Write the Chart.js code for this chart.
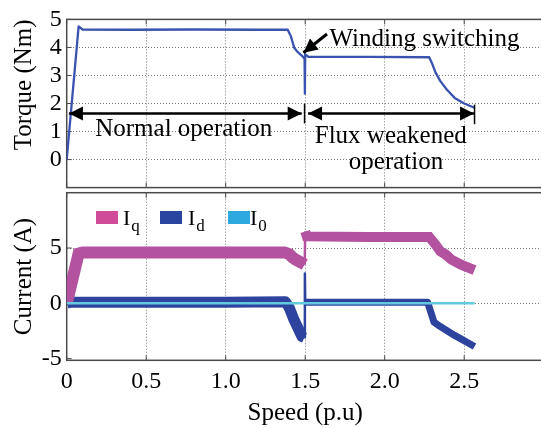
<!DOCTYPE html>
<html>
<head>
<meta charset="utf-8">
<script src="https://cdn.jsdelivr.net/npm/chart.js@4.4.1/dist/chart.umd.min.js"></script>
<style>
html,body{margin:0;padding:0;background:#fff;overflow:hidden}
#wrap{position:relative;width:541px;height:428px;overflow:hidden;background:#fff}
#top{position:absolute;left:0;top:0}
#bot{position:absolute;left:0;top:170px}
</style>
</head>
<body>
<div id="wrap">
<canvas id="top" width="550" height="210"></canvas>
<canvas id="bot" width="550" height="258"></canvas>
</div>
<script>
// --- data (speed in p.u) ---
const speedTorque = [0, 0.075, 0.1, 0.4, 0.8, 1.2, 1.39, 1.41, 1.43, 1.45, 1.48, 1.496, 1.498, 1.500, 1.52, 1.9, 2.28, 2.30, 2.32, 2.35, 2.39, 2.44, 2.50, 2.565];
const torqueNm    = [0, 4.75, 4.64, 4.63, 4.64, 4.63, 4.63, 4.4, 4.0, 3.85, 3.7, 3.6, 2.35, 3.75, 3.66, 3.66, 3.65, 3.4, 3.1, 2.8, 2.5, 2.2, 2.0, 1.85];

const speedIq = [0, 0.075, 0.1, 0.5, 1.0, 1.37, 1.40, 1.42, 1.44, 1.48, 1.497, 1.5, 1.51, 1.9, 2.28, 2.32, 2.35, 2.385, 2.42, 2.48, 2.565];
const currentIq = [0, 4.5, 4.6, 4.6, 4.6, 4.6, 4.45, 4.15, 3.95, 3.65, 3.5, 6.5, 6.05, 6.0, 6.0, 5.3, 4.7, 4.4, 3.95, 3.5, 3.0];

const speedId = [0, 0.02, 0.5, 1.0, 1.375, 1.40, 1.43, 1.46, 1.48, 1.495, 1.498, 1.5, 1.51, 1.9, 2.27, 2.29, 2.31, 2.35, 2.44, 2.565];
const currentId = [0, 0.1, 0.1, 0.1, 0.15, -0.4, -1.5, -2.4, -3.0, -3.1, 2.7, 0.1, 0.1, 0.1, 0.1, -0.8, -1.7, -2.1, -2.9, -3.9];

const speedI0 = [0, 2.565];
const currentI0 = [0, 0];

const xTicks = [0, 0.5, 1.0, 1.5, 2.0, 2.5];
const xTickLabels = ['0', '0.5', '1.0', '1.5', '2.0', '2.5'];
const torqueTicks = [0, 1, 2, 3, 4, 5];
const currentTicks = [-5, 0, 5];
const legendNames = ['I', 'I', 'I'];
const legendSubs = ['q', 'd', '0'];

const serif = "'Liberation Serif', 'Times New Roman', serif";
const toXY = (xs, ys) => xs.map((x, i) => ({x, y: ys[i]}));

function arrowHead(ctx, x1, y1, x2, y2, len, half){
    const a = Math.atan2(y2 - y1, x2 - x1);
    ctx.beginPath();
    ctx.moveTo(x2, y2);
    ctx.lineTo(x2 - len*Math.cos(a) + half*Math.sin(a), y2 - len*Math.sin(a) - half*Math.cos(a));
    ctx.lineTo(x2 - len*Math.cos(a) - half*Math.sin(a), y2 - len*Math.sin(a) + half*Math.cos(a));
    ctx.closePath();
    ctx.fill();
}

// box round the plot, with small inward ticks
const framePlugin = {
    id: 'frame',
    beforeDatasetsDraw(chart){
        const {ctx, chartArea: a, scales} = chart;
        ctx.save();
        ctx.strokeStyle = '#4a4a4a';
        ctx.lineWidth = 1.5;
        ctx.strokeRect(a.left, a.top, a.right - a.left, a.bottom - a.top);
        ctx.beginPath();
        scales.x.ticks.forEach(t => {
            const px = scales.x.getPixelForValue(t.value);
            ctx.moveTo(px, a.top); ctx.lineTo(px, a.top + 5);
            ctx.moveTo(px, a.bottom); ctx.lineTo(px, a.bottom - 5);
        });
        scales.y.ticks.forEach(t => {
            const py = scales.y.getPixelForValue(t.value);
            ctx.moveTo(a.left, py); ctx.lineTo(a.left + 5, py);
        });
        ctx.lineWidth = 1;
        ctx.stroke();
        ctx.restore();
    }
};

// arrows and notes on the torque plot (data units)
const torqueNotes = {
    arrows: [
        {x1: 0.014, y1: 1.64, x2: 1.478, y2: 1.64, both: true},
        {x1: 1.518, y1: 1.64, x2: 2.562, y2: 1.64, both: true},
        {x1: 1.637, y1: 4.48, x2: 1.489, y2: 3.81, both: false}
    ],
    bars: [{x: 1.496, y1: 1.99, y2: 1.29}, {x: 2.565, y1: 1.96, y2: 1.26}],
    texts: [
        {text: 'Normal operation', x: 0.736, y: 0.84, align: 'center'},
        {text: 'Flux weakened', x: 2.038, y: 0.6, align: 'center'},
        {text: 'operation', x: 2.071, y: -0.33, align: 'center'},
        {text: 'Winding switching', x: 1.653, y: 4.05, align: 'left'}
    ]
};

const notesPlugin = {
    id: 'notes',
    afterDatasetsDraw(chart){
        const {ctx, scales: {x, y}} = chart;
        ctx.save();
        ctx.strokeStyle = '#000'; ctx.fillStyle = '#000';
        ctx.lineWidth = 1.5;
        torqueNotes.bars.forEach(b => {
            ctx.beginPath();
            ctx.moveTo(x.getPixelForValue(b.x), y.getPixelForValue(b.y1));
            ctx.lineTo(x.getPixelForValue(b.x), y.getPixelForValue(b.y2));
            ctx.stroke();
        });
        torqueNotes.arrows.forEach(r => {
            const x1 = x.getPixelForValue(r.x1), y1 = y.getPixelForValue(r.y1);
            const x2 = x.getPixelForValue(r.x2), y2 = y.getPixelForValue(r.y2);
            ctx.lineWidth = r.both ? 2.5 : 3;
            ctx.beginPath(); ctx.moveTo(x1, y1); ctx.lineTo(x2, y2); ctx.stroke();
            arrowHead(ctx, x1, y1, x2, y2, 14, 7);
            if(r.both) arrowHead(ctx, x2, y2, x1, y1, 14, 7);
        });
        ctx.font = '25px ' + serif;
        ctx.textBaseline = 'alphabetic';
        torqueNotes.texts.forEach(t => {
            ctx.textAlign = t.align;
            ctx.fillText(t.text, x.getPixelForValue(t.x), y.getPixelForValue(t.y));
        });
        ctx.restore();
    }
};

// legend with subscripts
const legendColors = ['#d04c98', '#2a45a0', '#2ea9df'];
const legendPlugin = {
    id: 'subLegend',
    afterDatasetsDraw(chart){
        const ctx = chart.ctx;
        const boxX = [96, 160, 228], gap = [5, 6, 0];
        ctx.save();
        ctx.textBaseline = 'alphabetic';
        ctx.textAlign = 'left';
        legendNames.forEach((name, i) => {
            ctx.fillStyle = legendColors[i];
            ctx.fillRect(boxX[i], 41, 22, 13);
            ctx.fillStyle = '#000';
            ctx.font = '22px ' + serif;
            const tx = boxX[i] + 22 + gap[i];
            ctx.fillText(name, tx, 55);
            const w = ctx.measureText(name).width;
            ctx.font = '17px ' + serif;
            ctx.fillText(legendSubs[i], tx + w + 1, 61);
        });
        ctx.restore();
    }
};

function xScale(showLabels){
    return {
        type: 'linear', min: 0, max: 3,
        afterBuildTicks: s => { s.ticks = xTicks.map(v => ({value: v})); },
        afterFit: s => { s.height = showLabels ? 67.7 : 0; },
        grid: {color: '#7a7a7a', lineWidth: 1, drawTicks: false},
        border: {display: false, dash: [1, 2]},
        ticks: {display: showLabels, autoSkip: false, maxRotation: 0, padding: 7, color: '#000',
                font: {family: serif, size: 24},
                callback: (v, i) => xTickLabels[i] ?? ''},
        title: {display: showLabels, text: 'Speed (p.u)', color: '#000',
                font: {family: serif, size: 25, lineHeight: 1.2}, padding: {top: 0, bottom: 0}}
    };
}

function yScale(min, max, ticks, title, align, hideGridAt){
    return {
        min, max,
        afterBuildTicks: s => { s.ticks = ticks.map(v => ({value: v})); },
        afterFit: s => { s.width = 66.7; },
        grid: {color: c => (c.tick && c.tick.value === hideGridAt) ? 'rgba(0,0,0,0)' : '#7a7a7a', lineWidth: 1, drawTicks: false},
        border: {display: false, dash: [1, 2]},
        ticks: {padding: 5, color: '#000', font: {family: serif, size: 24}},
        title: {display: true, text: title, align, color: '#000',
                font: {family: serif, size: 25, lineHeight: 1.2}, padding: {top: 9, bottom: 0}}
    };
}

const common = {
    responsive: false,
    animation: false,
    plugins: {legend: {display: false}, tooltip: {enabled: false}},
    elements: {point: {radius: 0}, line: {tension: 0}}
};

// thin stroke for the near-vertical jumps at the switching point
const bandWidth = (c, normal, weak) => (c.p1.parsed.x - c.p0.parsed.x < 0.006) ? 2.5 : (c.p0.parsed.x >= 1.5 ? weak : normal);

new Chart(document.getElementById('top'), {
    type: 'line',
    data: {datasets: [{
        data: toXY(speedTorque, torqueNm),
        borderColor: '#3a52b0', borderWidth: 2.3, borderJoinStyle: 'round'
    }]},
    options: {
        ...common,
        layout: {padding: {left: 0, top: 16, right: 6.3, bottom: 22.4}},
        scales: {x: xScale(false), y: yScale(-1, 5, torqueTicks, 'Torque (Nm)', 'end', null)}
    },
    plugins: [framePlugin, notesPlugin]
});

new Chart(document.getElementById('bot'), {
    type: 'line',
    data: {datasets: [
        {data: toXY(speedI0, currentI0), borderColor: '#62c9de', borderWidth: 2.5, order: 0},
        {data: toXY(speedIq, currentIq), borderColor: '#b3529f', borderWidth: 12, order: 1,
         borderJoinStyle: 'miter',
         segment: {borderWidth: c => bandWidth(c, 12, 10)}},
        {data: toXY(speedId, currentId), borderColor: '#2d439e', borderWidth: 11, order: 2,
         borderJoinStyle: 'round',
         segment: {borderWidth: c => bandWidth(c, 11, 7)}}
    ]},
    options: {
        ...common,
        layout: {padding: {left: 0, top: 22.7, right: 6.3, bottom: 0}},
        scales: {x: xScale(true), y: yScale(-5.15, 10, currentTicks, 'Current (A)', 'center', -5)}
    },
    plugins: [framePlugin, legendPlugin]
});
</script>
</body>
</html>
